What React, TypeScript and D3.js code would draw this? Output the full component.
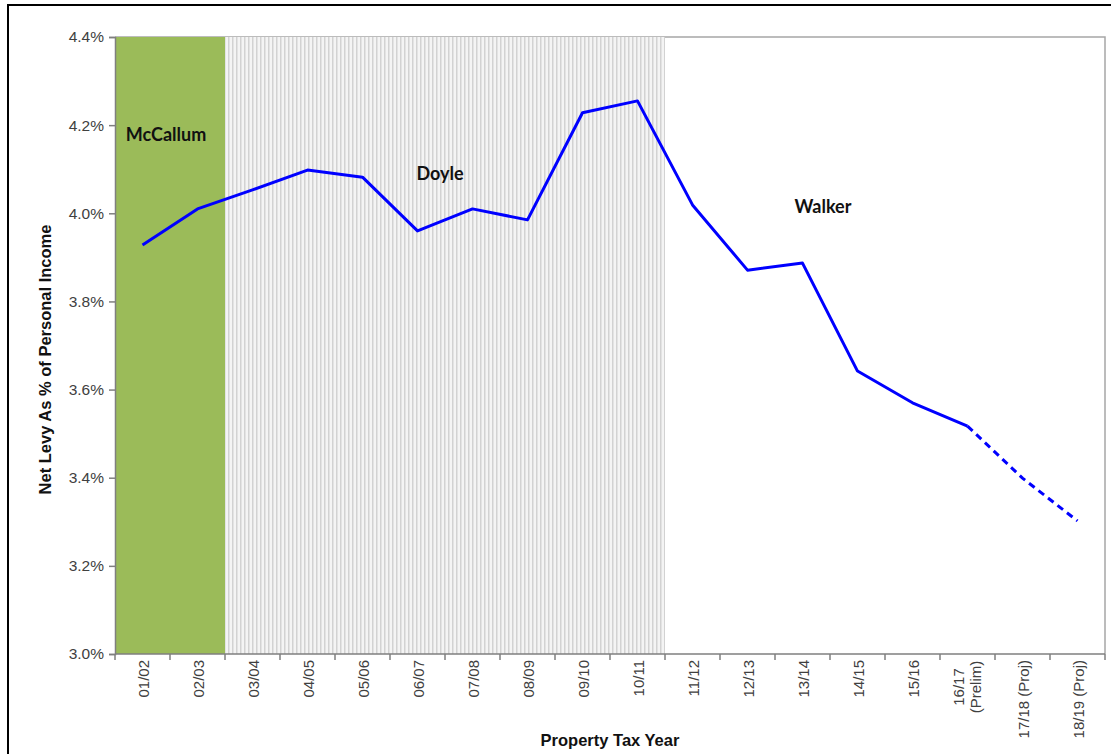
import React, { useEffect, useRef } from 'react';
import * as d3 from 'd3';

const years = [
  '01/02', '02/03', '03/04', '04/05', '05/06', '06/07', '07/08', '08/09', '09/10',
  '10/11', '11/12', '12/13', '13/14', '14/15', '15/16', '16/17|(Prelim)', '17/18 (Proj)', '18/19 (Proj)',
];
const levyPct = [
  3.928, 4.010, 4.053, 4.098, 4.082, 3.960, 4.010, 3.985, 4.228,
  4.255, 4.019, 3.871, 3.887, 3.642, 3.570, 3.517, 3.399, 3.302,
];
const yTicks = [3.0, 3.2, 3.4, 3.6, 3.8, 4.0, 4.2, 4.4];
// governors: first and last category index covered
const governors = [
  { name: 'McCallum', from: 0, to: 1 },
  { name: 'Doyle', from: 2, to: 9 },
  { name: 'Walker', from: 10, to: 17 },
];
const actualCount = 16; // points after this are projections (dashed)

const W = 1111;
const H = 754;
const margin = { top: 37, right: 6, bottom: 100, left: 115 };

const App: React.FC = () => {
  const ref = useRef<SVGSVGElement | null>(null);

  useEffect(() => {
    const svg = d3.select(ref.current);
    svg.selectAll('*').remove();

    const x = d3.scaleBand<string>()
      .domain(years)
      .range([margin.left, W - margin.right])
      .padding(0);
    const y = d3.scaleLinear()
      .domain([3.0, 4.4])
      .range([654, margin.top]);

    const defs = svg.append('defs');
    const pat = defs.append('pattern')
      .attr('id', 'hatch')
      .attr('patternUnits', 'userSpaceOnUse')
      .attr('width', 4)
      .attr('height', 4);
    pat.append('rect').attr('width', 4).attr('height', 4).attr('fill', '#f4f4f4');
    pat.append('rect').attr('x', 0).attr('width', 1.5).attr('height', 4).attr('fill', '#d2d2d2');

    // outer border
    svg.append('path')
      .attr('d', `M8,${H + 5}V5H${W + 5}`)
      .attr('fill', 'none')
      .attr('stroke', '#000')
      .attr('stroke-width', 2);

    // plot frame (top & right)
    svg.append('path')
      .attr('d', `M${margin.left},${y(4.4)}H${W - margin.right}V${y(3.0)}`)
      .attr('fill', 'none')
      .attr('stroke', '#a6a6a6')
      .attr('stroke-width', 1.5);

    // governor bands
    const bandX0 = (i: number) => x(years[i]) as number;
    const bandX1 = (i: number) => (x(years[i]) as number) + x.bandwidth();
    svg.append('rect')
      .attr('x', bandX0(governors[0].from))
      .attr('y', y(4.4))
      .attr('width', bandX1(governors[0].to) - bandX0(governors[0].from))
      .attr('height', y(3.0) - y(4.4))
      .attr('fill', '#9bbb59');
    svg.append('rect')
      .attr('x', bandX0(governors[1].from))
      .attr('y', y(4.4))
      .attr('width', bandX1(governors[1].to) - bandX0(governors[1].from))
      .attr('height', y(3.0) - y(4.4))
      .attr('fill', 'url(#hatch)');

    const font = 'Arial, "Liberation Sans", sans-serif';
    const labelFont = 'Lato, "Open Sans", sans-serif';

    // governor labels
    const govLabelPos = [
      { cx: 166, v: 4.164 },
      { cx: 440, v: 4.076 },
      { cx: 823, v: 4.001 },
    ];
    governors.forEach((g, i) => {
      svg.append('text')
        .attr('x', govLabelPos[i].cx)
        .attr('y', y(govLabelPos[i].v))
        .attr('text-anchor', 'middle')
        .attr('font-family', labelFont)
        .attr('font-weight', 'bold')
        .attr('font-size', 18)
        .attr('fill', '#111')
        .text(g.name);
    });

    // y axis
    const yAxis = svg.append('g')
      .attr('transform', `translate(${margin.left},0)`)
      .call(d3.axisLeft(y).tickValues(yTicks).tickSize(6).tickPadding(5)
        .tickFormat(d => `${(d as number).toFixed(1)}%`));
    yAxis.select('.domain').attr('stroke', '#7f7f7f').attr('stroke-width', 1.5);
    yAxis.selectAll('.tick line').attr('stroke', '#7f7f7f').attr('stroke-width', 1.5);
    yAxis.selectAll('.tick text')
      .attr('font-family', font)
      .attr('font-size', 15.5)
      .attr('fill', '#404040');

    // x axis (ticks at category boundaries)
    const xg = svg.append('g').attr('transform', `translate(0,${y(3.0)})`);
    xg.append('line')
      .attr('x1', margin.left).attr('x2', W - margin.right)
      .attr('stroke', '#7f7f7f').attr('stroke-width', 1.5);
    const bounds = years.map((d) => x(d) as number).concat([W - margin.right]);
    xg.selectAll('line.tk')
      .data(bounds)
      .enter().append('line')
      .attr('class', 'tk')
      .attr('x1', d => d).attr('x2', d => d)
      .attr('y1', 0).attr('y2', 6)
      .attr('stroke', '#7f7f7f').attr('stroke-width', 1.5);

    years.forEach((label) => {
      const cx = (x(label) as number) + x.bandwidth() / 2;
      const lines = label.split('|');
      if (lines.length === 1) {
        svg.append('text')
          .attr('transform', `translate(${cx + 6},${y(3.0) + 6}) rotate(-90)`)
          .attr('text-anchor', 'end')
          .attr('font-family', font)
          .attr('font-size', 15)
          .attr('fill', '#404040')
          .text(label);
      } else {
        const t = svg.append('text')
          .attr('transform', `translate(${cx - 4},${y(3.0) + 33}) rotate(-90)`)
          .attr('text-anchor', 'middle')
          .attr('font-family', font)
          .attr('font-size', 15)
          .attr('fill', '#404040');
        lines.forEach((l, j) => {
          t.append('tspan').attr('x', 0).attr('dy', j === 0 ? 0 : 17).text(l);
        });
      }
    });

    // axis titles
    svg.append('text')
      .attr('transform', `translate(51,${(y(3.0) + y(4.4)) / 2 + 14}) rotate(-90)`)
      .attr('text-anchor', 'middle')
      .attr('font-family', font)
      .attr('font-weight', 'bold')
      .attr('font-size', 16.5)
      .attr('fill', '#111')
      .text('Net Levy As % of Personal Income');
    svg.append('text')
      .attr('x', 610)
      .attr('y', 746)
      .attr('text-anchor', 'middle')
      .attr('font-family', font)
      .attr('font-weight', 'bold')
      .attr('font-size', 16.5)
      .attr('fill', '#111')
      .text('Property  Tax Year');

    // series line
    const pts = years.map((d, i) => [(x(d) as number) + x.bandwidth() / 2, y(levyPct[i])] as [number, number]);
    const line = d3.line<[number, number]>();
    svg.append('path')
      .attr('d', line(pts.slice(0, actualCount)))
      .attr('fill', 'none')
      .attr('stroke', '#0000ff')
      .attr('stroke-width', 3)
      .attr('stroke-linejoin', 'round');
    svg.append('path')
      .attr('d', line(pts.slice(actualCount - 1)))
      .attr('fill', 'none')
      .attr('stroke', '#0000ff')
      .attr('stroke-width', 3)
      .attr('stroke-dasharray', '7,5');
  }, []);

  return (
    <svg
      ref={ref}
      width={W}
      height={H}
      style={{ position: 'absolute', left: 0, top: 0, background: '#fff' }}
    />
  );
};

export default App;
